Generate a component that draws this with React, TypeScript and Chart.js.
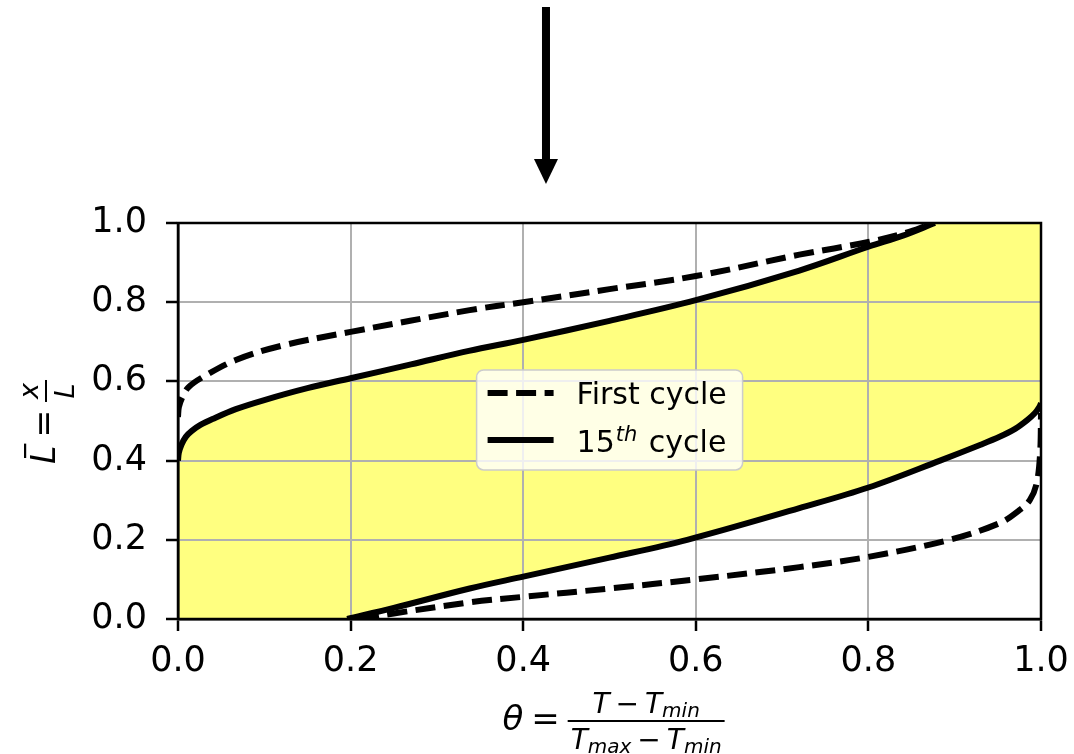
import React, { useEffect, useRef } from "react";
import { Chart, registerables } from "chart.js";

Chart.register(...registerables);

// ---------- data ----------
const X_TICKS = [0, 0.2, 0.4, 0.6, 0.8, 1.0];
const Y_TICKS = [0, 0.2, 0.4, 0.6, 0.8, 1.0];

const SERIES_LABELS = ["First cycle", "15th cycle"];

const FIRST_UPPER_X = [0, 0.001, 0.005, 0.012, 0.028, 0.067, 0.12, 0.2, 0.338, 0.4, 0.5, 0.6, 0.72, 0.8, 0.848, 0.875];
const FIRST_UPPER_Y = [0.51, 0.535, 0.56, 0.585, 0.61, 0.654, 0.69, 0.725, 0.78, 0.8, 0.833, 0.866, 0.92, 0.952, 0.978, 1.0];

const FIRST_LOWER_X = [0.21, 0.25, 0.338, 0.4, 0.5, 0.6, 0.72, 0.8, 0.894, 0.952, 0.975, 0.987, 0.995, 0.999, 1.0];
const FIRST_LOWER_Y = [0.0, 0.014, 0.042, 0.056, 0.077, 0.1, 0.131, 0.157, 0.2, 0.242, 0.275, 0.3, 0.343, 0.42, 0.52];

const CYCLE15_UPPER_X = [0, 0.001, 0.004, 0.009, 0.016, 0.026, 0.04, 0.067, 0.1, 0.15, 0.2, 0.27, 0.337, 0.4, 0.5, 0.6, 0.72, 0.8, 0.84, 0.877];
const CYCLE15_UPPER_Y = [0.4, 0.42, 0.44, 0.46, 0.475, 0.49, 0.505, 0.53, 0.553, 0.583, 0.608, 0.643, 0.677, 0.705, 0.753, 0.805, 0.88, 0.94, 0.968, 1.0];

const CYCLE15_LOWER_X = [0.196, 0.25, 0.338, 0.4, 0.5, 0.59, 0.72, 0.8, 0.883, 0.93, 0.952, 0.97, 0.984, 0.993, 0.998, 1.0];
const CYCLE15_LOWER_Y = [0.0, 0.028, 0.077, 0.107, 0.155, 0.2, 0.28, 0.332, 0.4, 0.44, 0.46, 0.48, 0.502, 0.52, 0.535, 0.545];

// annotation arrow position along the theta axis
const ARROW_X = 0.4264;

// ---------- styles ----------
const FONT = '"DejaVu Sans"';
const FILL_COLOR = "#ffff80";
const GRID_COLOR = "#b0b0b0";
const LINE_W = 6;
const DASH = [20, 8.5];
const TENSION = 0.35;

const zip = (xs: number[], ys: number[]) => xs.map((v, i) => ({ x: v, y: ys[i] }));

type Piece = { t: string; f: string; dy?: number; gap?: number };

function runWidth(ctx: CanvasRenderingContext2D, pieces: Piece[]) {
  let w = 0;
  for (const p of pieces) {
    ctx.font = p.f;
    w += ctx.measureText(p.t).width + (p.gap || 0);
  }
  return w;
}
function drawRun(ctx: CanvasRenderingContext2D, pieces: Piece[], x: number, y: number) {
  for (const p of pieces) {
    ctx.font = p.f;
    ctx.fillText(p.t, x, y + (p.dy || 0));
    x += ctx.measureText(p.t).width + (p.gap || 0);
  }
  return x;
}

function drawFracLabel(
  ctx: CanvasRenderingContext2D,
  lhs: Piece[],
  num: Piece[],
  den: Piece[],
  eqFont: string,
  cx: number,
  overline?: boolean
) {
  ctx.textBaseline = "alphabetic";
  ctx.textAlign = "left";
  ctx.fillStyle = "#000";
  const lw = runWidth(ctx, lhs);
  ctx.font = eqFont;
  const eqW = ctx.measureText("=").width;
  const nw = runWidth(ctx, num);
  const dw = runWidth(ctx, den);
  const fw = Math.max(nw, dw) + 6;
  const gap = 8;
  const total = lw + gap + eqW + gap + fw;
  let x = cx - total / 2;
  const lx = x;
  x = drawRun(ctx, lhs, x, 0);
  if (overline) {
    ctx.fillRect(lx + 6, -31, lw - 4, 2.2);
  }
  x += gap;
  ctx.font = eqFont;
  ctx.fillText("=", x, 0);
  x += eqW + gap;
  ctx.fillRect(x, -10, fw, 2);
  drawRun(ctx, num, x + (fw - nw) / 2, -17);
  drawRun(ctx, den, x + (fw - dw) / 2, 19);
}

type P = { x: number; y: number; cp1x?: number; cp1y?: number; cp2x?: number; cp2y?: number };

function traceForward(ctx: CanvasRenderingContext2D, pts: P[]) {
  for (let i = 0; i < pts.length - 1; i++) {
    const a = pts[i];
    const b = pts[i + 1];
    if (a.cp2x !== undefined && b.cp1x !== undefined) {
      ctx.bezierCurveTo(a.cp2x, a.cp2y as number, b.cp1x, b.cp1y as number, b.x, b.y);
    } else ctx.lineTo(b.x, b.y);
  }
}
function traceBackward(ctx: CanvasRenderingContext2D, pts: P[]) {
  for (let i = pts.length - 1; i > 0; i--) {
    const a = pts[i];
    const b = pts[i - 1];
    if (a.cp1x !== undefined && b.cp2x !== undefined) {
      ctx.bezierCurveTo(a.cp1x, a.cp1y as number, b.cp2x, b.cp2y as number, b.x, b.y);
    } else ctx.lineTo(b.x, b.y);
  }
}

const decorPlugin = {
  id: "decor",
  beforeDraw(chart: any) {
    const { ctx, chartArea: ca, scales } = chart;
    const xs = scales.x;
    const ys = scales.y;
    const up: P[] = chart.getDatasetMeta(2).data as any;
    const lo: P[] = chart.getDatasetMeta(3).data as any;
    if (!up.length || !lo.length) return;
    ctx.save();
    ctx.beginPath();
    ctx.rect(ca.left, ca.top, ca.right - ca.left, ca.bottom - ca.top);
    ctx.clip();
    ctx.beginPath();
    ctx.moveTo(xs.getPixelForValue(0), ys.getPixelForValue(0));
    ctx.lineTo(up[0].x, up[0].y);
    traceForward(ctx, up);
    ctx.lineTo(xs.getPixelForValue(1), ys.getPixelForValue(1));
    ctx.lineTo(lo[lo.length - 1].x, lo[lo.length - 1].y);
    traceBackward(ctx, lo);
    ctx.closePath();
    ctx.fillStyle = FILL_COLOR;
    ctx.fill();
    ctx.restore();
  },
  afterDatasetsDraw(chart: any) {
    const { ctx, chartArea: ca } = chart;
    ctx.save();
    ctx.strokeStyle = "#000";
    ctx.lineWidth = 2.5;
    ctx.strokeRect(ca.left, ca.top, ca.right - ca.left, ca.bottom - ca.top);

    // legend
    const w = ca.right - ca.left;
    const h = ca.bottom - ca.top;
    const bx = ca.left + 0.346 * w;
    const by = ca.top + 0.371 * h;
    const bw = 266;
    const bh = 100;
    ctx.beginPath();
    (ctx as any).roundRect(bx, by, bw, bh, 7);
    ctx.fillStyle = "rgba(255,255,255,0.8)";
    ctx.fill();
    ctx.strokeStyle = "#cccccc";
    ctx.lineWidth = 1.5;
    ctx.stroke();

    const rows = [by + 23, by + 70];
    ctx.strokeStyle = "#000";
    ctx.lineWidth = LINE_W;
    ctx.lineCap = "butt";
    ctx.setLineDash(DASH);
    ctx.beginPath();
    ctx.moveTo(bx + 11, rows[0]);
    ctx.lineTo(bx + 77, rows[0]);
    ctx.stroke();
    ctx.setLineDash([]);
    ctx.beginPath();
    ctx.moveTo(bx + 11, rows[1]);
    ctx.lineTo(bx + 77, rows[1]);
    ctx.stroke();

    ctx.fillStyle = "#000";
    ctx.textBaseline = "alphabetic";
    ctx.textAlign = "left";
    const tf = `30px ${FONT}`;
    ctx.font = tf;
    ctx.fillText(SERIES_LABELS[0], bx + 100, by + 34);
    const m = SERIES_LABELS[1].match(/^(\d+)(th)(.*)$/);
    if (m) {
      drawRun(
        ctx,
        [
          { t: m[1], f: tf, gap: 1 },
          { t: m[2], f: `italic 21px ${FONT}`, dy: -11, gap: 2 },
          { t: m[3], f: tf },
        ],
        bx + 100,
        by + 82
      );
    }
    ctx.restore();
  },
  afterDraw(chart: any) {
    const { ctx, chartArea: ca, scales } = chart;
    ctx.save();
    const it = (s: number) => `italic ${s}px ${FONT}`;
    const up = (s: number) => `${s}px ${FONT}`;
    ctx.save();
    ctx.translate(0, ca.bottom + 111);
    drawFracLabel(
      ctx,
      [{ t: "θ", f: it(34) }],
      [
        { t: "T", f: it(28), gap: 6 },
        { t: "−", f: up(28), gap: 6 },
        { t: "T", f: it(28) },
        { t: "min", f: it(20), dy: 4 },
      ],
      [
        { t: "T", f: it(28) },
        { t: "max", f: it(20), dy: 4, gap: 6 },
        { t: "−", f: up(28), gap: 6 },
        { t: "T", f: it(28) },
        { t: "min", f: it(20), dy: 4 },
      ],
      up(34),
      (ca.left + ca.right) / 2 + 4
    );
    ctx.restore();

    ctx.save();
    ctx.translate(55, (ca.top + ca.bottom) / 2 + 1);
    ctx.rotate(-Math.PI / 2);
    drawFracLabel(
      ctx,
      [{ t: "L", f: it(33) }],
      [{ t: "x", f: it(27) }],
      [{ t: "L", f: it(27) }],
      up(33),
      0,
      true
    );
    ctx.restore();

    const ax = scales.x.getPixelForValue(ARROW_X);
    ctx.fillStyle = "#000";
    ctx.fillRect(ax - 4, 7, 8, 154);
    ctx.beginPath();
    ctx.moveTo(ax - 12, 159);
    ctx.lineTo(ax + 12, 159);
    ctx.lineTo(ax, 184);
    ctx.closePath();
    ctx.fill();
    ctx.restore();
  },
};

export default function App() {
  const ref = useRef<HTMLCanvasElement | null>(null);
  useEffect(() => {
    if (!ref.current) return;
    Chart.defaults.font.family = FONT;
    const lineDs = (label: string, xs: number[], ys: number[], dashed: boolean) => ({
      label,
      data: zip(xs, ys),
      showLine: true,
      borderColor: "#000",
      backgroundColor: "#000",
      borderWidth: LINE_W,
      borderDash: dashed ? DASH : [],
      borderCapStyle: "butt" as const,
      borderJoinStyle: "round" as const,
      pointRadius: 0,
      fill: false,
      tension: TENSION,
    });
    const tickFont = { size: 35, family: FONT };
    const grid = {
      color: GRID_COLOR,
      lineWidth: 2,
      tickColor: "#000",
      tickWidth: 2.5,
      tickLength: 12,
    };
    const chart = new Chart(ref.current, {
      type: "scatter",
      data: {
        datasets: [
          lineDs(SERIES_LABELS[0], FIRST_UPPER_X, FIRST_UPPER_Y, true),
          lineDs(SERIES_LABELS[0], FIRST_LOWER_X, FIRST_LOWER_Y, true),
          lineDs(SERIES_LABELS[1], CYCLE15_UPPER_X, CYCLE15_UPPER_Y, false),
          lineDs(SERIES_LABELS[1], CYCLE15_LOWER_X, CYCLE15_LOWER_Y, false),
        ],
      },
      options: {
        animation: false,
        responsive: true,
        maintainAspectRatio: false,
        events: [],
        layout: { padding: { top: 223, right: 33, bottom: 0, left: 0 } },
        plugins: { legend: { display: false }, tooltip: { enabled: false } },
        scales: {
          x: {
            type: "linear",
            min: 0,
            max: 1,
            afterBuildTicks: (s: any) => {
              s.ticks = X_TICKS.map((v) => ({ value: v }));
            },
            afterFit: (s: any) => {
              s.height = 135;
              s.paddingLeft = 0;
              s.paddingRight = 0;
            },
            ticks: {
              font: tickFont,
              color: "#000",
              padding: 10,
              maxRotation: 0,
              callback: (v: any) => Number(v).toFixed(1),
            },
            grid,
            border: { display: true, color: "#000", width: 2.5 },
          },
          y: {
            type: "linear",
            min: 0,
            max: 1,
            afterBuildTicks: (s: any) => {
              s.ticks = Y_TICKS.map((v) => ({ value: v }));
            },
            afterFit: (s: any) => {
              s.width = 178;
              s.paddingTop = 0;
              s.paddingBottom = 0;
            },
            ticks: {
              font: tickFont,
              color: "#000",
              padding: 19,
              callback: (v: any) => Number(v).toFixed(1),
            },
            grid,
            border: { display: true, color: "#000", width: 2.5 },
          },
        },
      },
      plugins: [decorPlugin],
    } as any);
    return () => chart.destroy();
  }, []);
  return (
    <div style={{ position: "absolute", left: 0, top: 0, width: 1074, height: 754, background: "#fff" }}>
      <canvas ref={ref} />
    </div>
  );
}
